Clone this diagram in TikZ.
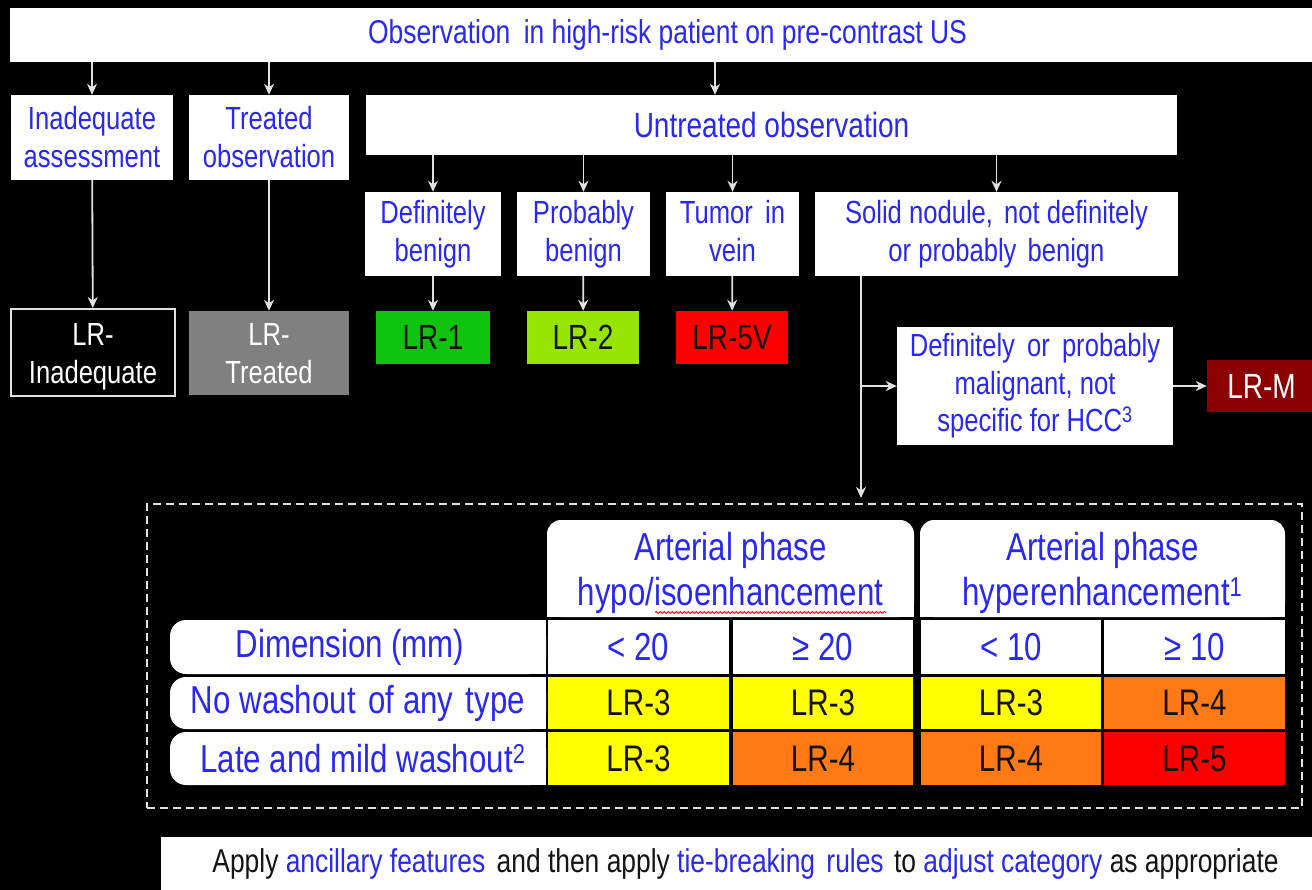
\documentclass[tikz,border=0pt]{standalone}
\usepackage{fontspec}
\setmainfont[FakeStretch=0.8]{Liberation Sans}
\usetikzlibrary{arrows.meta,decorations.pathmorphing}
\definecolor{tblue}{RGB}{40,40,240}
\definecolor{tdark}{RGB}{20,20,20}
\definecolor{lrgreen}{RGB}{15,195,15}
\definecolor{lrlime}{RGB}{150,228,0}
\definecolor{lrred}{RGB}{252,0,0}
\definecolor{lrmaroon}{RGB}{140,0,0}
\definecolor{lrgray}{RGB}{128,128,128}
\definecolor{lryellow}{RGB}{255,255,0}
\definecolor{lrorange}{RGB}{255,122,20}
\definecolor{wline}{RGB}{225,225,225}
\newcommand{\fsz}[2]{\fontsize{#1}{#2}\selectfont}
\begin{document}
\begin{tikzpicture}[x=1pt,y=-1pt,
  box/.style={fill=white, text=tblue, align=center, inner sep=0pt},
  lrbox/.style={text=tdark, align=center, inner sep=0pt},
  cellbox/.style={inner sep=0pt, align=center},
  arr/.style={draw=wline, line width=1.8pt, -{Stealth[length=11pt,width=10pt,inset=3.5pt]}},
  ln/.style={draw=wline, line width=1.8pt},
  f32/.style={font=\fsz{32}{38}},
  f35/.style={font=\fsz{35}{40}},
  f39/.style={font=\fsz{39}{45}},
  f37/.style={font=\fsz{37}{42}},
]
\fill[black] (0,0) rectangle (1312,890);
\useasboundingbox (0,0) rectangle (1312,890);

% top row
\node[box, font=\fsz{33}{38}, minimum width=1315, minimum height=54] (top) at (667.5,35) {Observation\hspace{6pt} in high-risk patient on pre-contrast US};

% second row
\node[box, f32, minimum width=162, minimum height=85] (ia) at (92,137.5) {Inadequate\\assessment};
\node[box, f32, minimum width=160, minimum height=85] (tr) at (269,137.5) {Treated\\observation};
\node[box, f35, minimum width=811, minimum height=60] (untr) at (771.5,125) {Untreated observation};

% third row
\node[box, f32, minimum width=136, minimum height=84] (defb) at (433,234) {Definitely\\benign};
\node[box, f32, minimum width=133, minimum height=84] (probb) at (583.5,234) {Probably\\benign};
\node[box, f32, minimum width=133, minimum height=84] (tumor) at (732.5,234) {Tumor\hspace{5pt} in\\vein\vphantom{gy}};
\node[box, f32, minimum width=363, minimum height=84] (solid) at (996.5,234) {Solid nodule,\hspace{4pt} not definitely\\or probably\hspace{4pt} benign};

% LR categories
\node[lrbox, fill=black, draw=wline, line width=2pt, minimum width=164, minimum height=87] (lri) at (93,352.5) {};
\node[lrbox, f32, text=white] (lritxt) at (93,357) {LR-\\Inadequate};
\node[lrbox, fill=lrgray, minimum width=160, minimum height=84] (lrt) at (269,353) {};
\node[lrbox, f32, text=white] (lrttxt) at (269,357) {LR-\\Treated\vphantom{g}};
\node[lrbox, f35, fill=lrgreen, minimum width=114, minimum height=53] (lr1) at (433,337.5) {LR-1};
\node[lrbox, f35, fill=lrlime, minimum width=112, minimum height=53] (lr2) at (583,337.5) {LR-2};
\node[lrbox, f35, fill=lrred, minimum width=112, minimum height=53] (lr5v) at (732,337.5) {LR-5V};
\node[box, font=\fsz{32}{37.5}, minimum width=276, minimum height=118] (mal) at (1035,386) {Definitely\hspace{5pt} or\hspace{5pt} probably\\malignant, not\\specific for HCC\textsuperscript{3}};
\node[lrbox, f35, fill=lrmaroon, text=white, minimum width=109, minimum height=52] (lrm) at (1261.5,386) {LR-M};

% dashed frame
\node[draw=wline, dash pattern=on 8pt off 5pt, line width=2pt, minimum width=1155, minimum height=304, inner sep=0pt] (frame) at (724.5,656) {};

% connectors
\draw[arr] (top.south -| ia) -- (ia.north);
\draw[arr] (top.south -| tr) -- (tr.north);
\coordinate (u1) at (715,0);
\draw[arr] (top.south -| u1) -- (untr.north -| u1);
\draw[arr] (untr.south -| defb) -- (defb.north);
\draw[arr] (untr.south -| probb) -- (probb.north);
\draw[arr] (untr.south -| tumor) -- (tumor.north);
\draw[arr] (untr.south -| solid) -- (solid.north);
\draw[arr] (ia) -- (lri);
\draw[arr] (tr) -- (lrt);
\draw[arr] (defb) -- (lr1);
\draw[arr] (probb) -- (lr2);
\draw[arr] (tumor) -- (lr5v);
\coordinate (br) at (861,386);
\draw[ln] (solid.south -| br) -- (br);
\draw[arr, shorten >=5pt] (br) -- (frame.north -| br);
\draw[arr] (br) -- (mal.west);
\draw[arr] (mal.east) -- (lrm.west);

% table headers (rounded top corners)
\fill[white, rounded corners=14pt] (547,520) rectangle (914,617);
\fill[white] (547,570) rectangle (914,617);
\fill[white, rounded corners=14pt] (920,520) rectangle (1285,617);
\fill[white] (920,570) rectangle (1285,617);
\node[cellbox, f39, text=tblue] (h1) at (730.5,573) {Arterial phase\\hypo/isoenhancement};
\node[cellbox, f39, text=tblue] (h2) at (1102.5,573) {Arterial phase\\hyperenhancement\textsuperscript{1}};
\draw[red, line width=0.8pt, decorate, decoration={snake, amplitude=1.1pt, segment length=4pt}] (655,612.5) -- (886,612.5);

% row labels (rounded left corners)
\fill[white, rounded corners=16pt] (170,620) rectangle (546,674);
\fill[white] (300,620) rectangle (546,674);
\fill[white, rounded corners=16pt] (170,677) rectangle (546,729);
\fill[white] (300,677) rectangle (546,729);
\fill[white, rounded corners=16pt] (170,732) rectangle (546,785);
\fill[white] (300,732) rectangle (546,785);
\node[cellbox, f39, text=tblue] (lab0) at (350,647) {Dimension (mm)};
\node[cellbox, f39, text=tblue] (lab1) at (358,703) {No washout\hspace{4pt} of any\hspace{4pt} type};
\node[cellbox, f39, text=tblue] (lab2) at (363,758.5) {Late and mild washout\textsuperscript{2}};

% data cells
\node[cellbox, f39, fill=white, text=tblue, minimum width=181, minimum height=54] (d1) at (638.5,647) {< 20};
\node[cellbox, f39, fill=white, text=tblue, minimum width=180, minimum height=54] (d2) at (823,647) {≥ 20};
\node[cellbox, f39, fill=white, text=tblue, minimum width=180, minimum height=54] (d3) at (1011,647) {< 10};
\node[cellbox, f39, fill=white, text=tblue, minimum width=181, minimum height=54] (d4) at (1194.5,647) {≥ 10};

\node[cellbox, f37, fill=lryellow, text=tdark, minimum width=181, minimum height=52] (a1) at (638.5,703) {LR-3};
\node[cellbox, f37, fill=lryellow, text=tdark, minimum width=180, minimum height=52] (a2) at (823,703) {LR-3};
\node[cellbox, f37, fill=lryellow, text=tdark, minimum width=180, minimum height=52] (a3) at (1011,703) {LR-3};
\node[cellbox, f37, fill=lrorange, text=tdark, minimum width=181, minimum height=52] (a4) at (1194.5,703) {LR-4};

\node[cellbox, f37, fill=lryellow, text=tdark, minimum width=181, minimum height=53] (b1) at (638.5,758.5) {LR-3};
\node[cellbox, f37, fill=lrorange, text=tdark, minimum width=180, minimum height=53] (b2) at (823,758.5) {LR-4};
\node[cellbox, f37, fill=lrorange, text=tdark, minimum width=180, minimum height=53] (b3) at (1011,758.5) {LR-4};
\node[cellbox, f37, fill=lrred, text=tdark, minimum width=181, minimum height=53] (b4) at (1194.5,758.5) {LR-5};

% bottom note
\node[fill=white, inner sep=0pt, minimum width=1169, minimum height=54, font=\fsz{33}{36}, text=tdark] (note) at (745.5,863.5)
 {Apply \textcolor{tblue}{ancillary features}\hspace{4pt} and then apply \textcolor{tblue}{tie-breaking\hspace{4pt} rules}\hspace{3pt} to \textcolor{tblue}{adjust category} as appropriate};
\end{tikzpicture}
\end{document}
